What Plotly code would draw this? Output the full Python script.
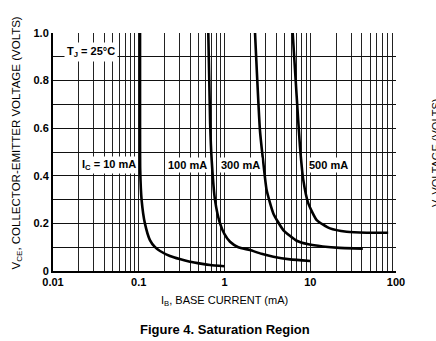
import plotly.graph_objects as go

# ---- data ----
ib_10 = [0.1035, 0.1035, 0.104, 0.108, 0.118, 0.135, 0.155, 0.177, 0.231, 0.30, 0.396, 0.55, 0.678, 1.0]
vce_10 = [1.0, 0.60, 0.424, 0.298, 0.20, 0.13, 0.100, 0.084, 0.063, 0.050, 0.039, 0.030, 0.025, 0.020]

ib_100 = [0.647, 0.68, 0.709, 0.775, 0.887, 1.0, 1.16, 1.45, 1.98, 2.7, 3.71, 5.8, 10.0]
vce_100 = [1.0, 0.62, 0.466, 0.298, 0.20, 0.155, 0.123, 0.100, 0.088, 0.072, 0.060, 0.049, 0.042]

ib_300 = [2.27, 2.59, 2.84, 3.10, 3.71, 4.85, 6.95, 9.5, 14.0, 22.0, 41.0]
vce_300 = [1.0, 0.592, 0.453, 0.34, 0.242, 0.172, 0.127, 0.112, 0.103, 0.097, 0.094]

ib_500 = [6.24, 6.95, 7.59, 8.3, 9.49, 11.9, 17.0, 26.6, 45.5, 81.0]
vce_500 = [1.0, 0.732, 0.522, 0.382, 0.284, 0.214, 0.179, 0.165, 0.161, 0.161]

series = [(ib_10, vce_10), (ib_100, vce_100), (ib_300, vce_300), (ib_500, vce_500)]

x_major = [0.01, 0.1, 1, 10, 100]
x_major_text = ["0.01", "0.1", "1", "10", "100"]
y_vals = [0, 0.1, 0.2, 0.3, 0.4, 0.5, 0.6, 0.7, 0.8, 0.9, 1.0]
y_text = ["0", "", "0.2", "", "0.4", "", "0.6", "", "0.8", "", "1.0"]

curve_labels = ["I<sub>C</sub> = 10 mA", "100 mA", "300 mA", "500 mA"]

# ---- figure ----
x_vals = []
x_text = []
for d in x_major[:-1]:
    for m in range(1, 10):
        x_vals.append(d * m)
        x_text.append(x_major_text[x_major.index(d)] if m == 1 else "")
x_vals.append(x_major[-1])
x_text.append(x_major_text[-1])

FONT = "Liberation Sans, Arial, sans-serif"

fig = go.Figure()
for xs, ys in series:
    fig.add_trace(go.Scatter(x=xs, y=ys, mode="lines",
                             line=dict(color="black", width=2.6, shape="spline", smoothing=0.5),
                             showlegend=False, hoverinfo="skip"))

fig.update_layout(
    width=436, height=341,
    margin=dict(l=53, r=40, t=33, b=70),
    paper_bgcolor="white", plot_bgcolor="white",
    font=dict(family=FONT, color="black", size=11),
    xaxis=dict(type="log", range=[-2, 2], tickvals=x_vals, ticktext=x_text,
               showgrid=True, gridcolor="#222", gridwidth=1,
               showline=True, linecolor="black", linewidth=2,
               ticks="", zeroline=False,
               tickfont=dict(family=FONT, size=11, weight="bold")),
    yaxis=dict(range=[0, 1], tickvals=y_vals, ticktext=y_text,
               showgrid=True, gridcolor="#111", gridwidth=1,
               showline=True, linecolor="black", linewidth=2,
               ticks="", zeroline=False,
               tickfont=dict(family=FONT, size=11, weight="bold")),
)

# curve labels with white boxes
label_pos = [(-1.345, 0.445), (-0.43, 0.445), (0.19, 0.445), (1.207, 0.445)]
for txt, (lx, ly) in zip(curve_labels, label_pos):
    fig.add_annotation(x=lx, y=ly, xref="x", yref="y", text=txt, showarrow=False,
                       bgcolor="white", borderpad=1,
                       font=dict(family=FONT, size=11, weight="bold", color="black"))

fig.add_annotation(x=-1.557, y=0.92, xref="x", yref="y", text="T<sub>J</sub> = 25°C",
                   showarrow=False, bgcolor="white", borderpad=2,
                   font=dict(family=FONT, size=11, weight="bold", color="black"))

# axis titles
fig.add_annotation(x=0.5, y=-0.126, xref="paper", yref="paper",
                   text="I<sub>B</sub>, BASE CURRENT (mA)", showarrow=False,
                   xanchor="center", yanchor="middle",
                   font=dict(family=FONT, size=11, color="black"))
fig.add_annotation(x=(17 - 53) / 343, y=-0.004, xref="paper", yref="paper",
                   text="V<sub>CE</sub>, COLLECTOR-EMITTER VOLTAGE (VOLTS)", showarrow=False,
                   textangle=-90, xanchor="center", yanchor="bottom",
                   font=dict(family=FONT, size=11.5, color="black"))
fig.add_annotation(x=(428 - 53) / 343, y=(271 - 153) / 238, xref="paper", yref="paper",
                   text="V, VOLTAGE (VOLTS)", showarrow=False,
                   textangle=-90, xanchor="left", yanchor="middle",
                   font=dict(family=FONT, size=11, color="black"))

# figure caption
fig.add_annotation(x=(224.5 - 53) / 343, y=(271 - 329) / 238, xref="paper", yref="paper",
                   text="Figure 4. Saturation Region", showarrow=False,
                   xanchor="center", yanchor="middle",
                   font=dict(family=FONT, size=13, weight="bold", color="black"))

fig.write_html("out.html")
